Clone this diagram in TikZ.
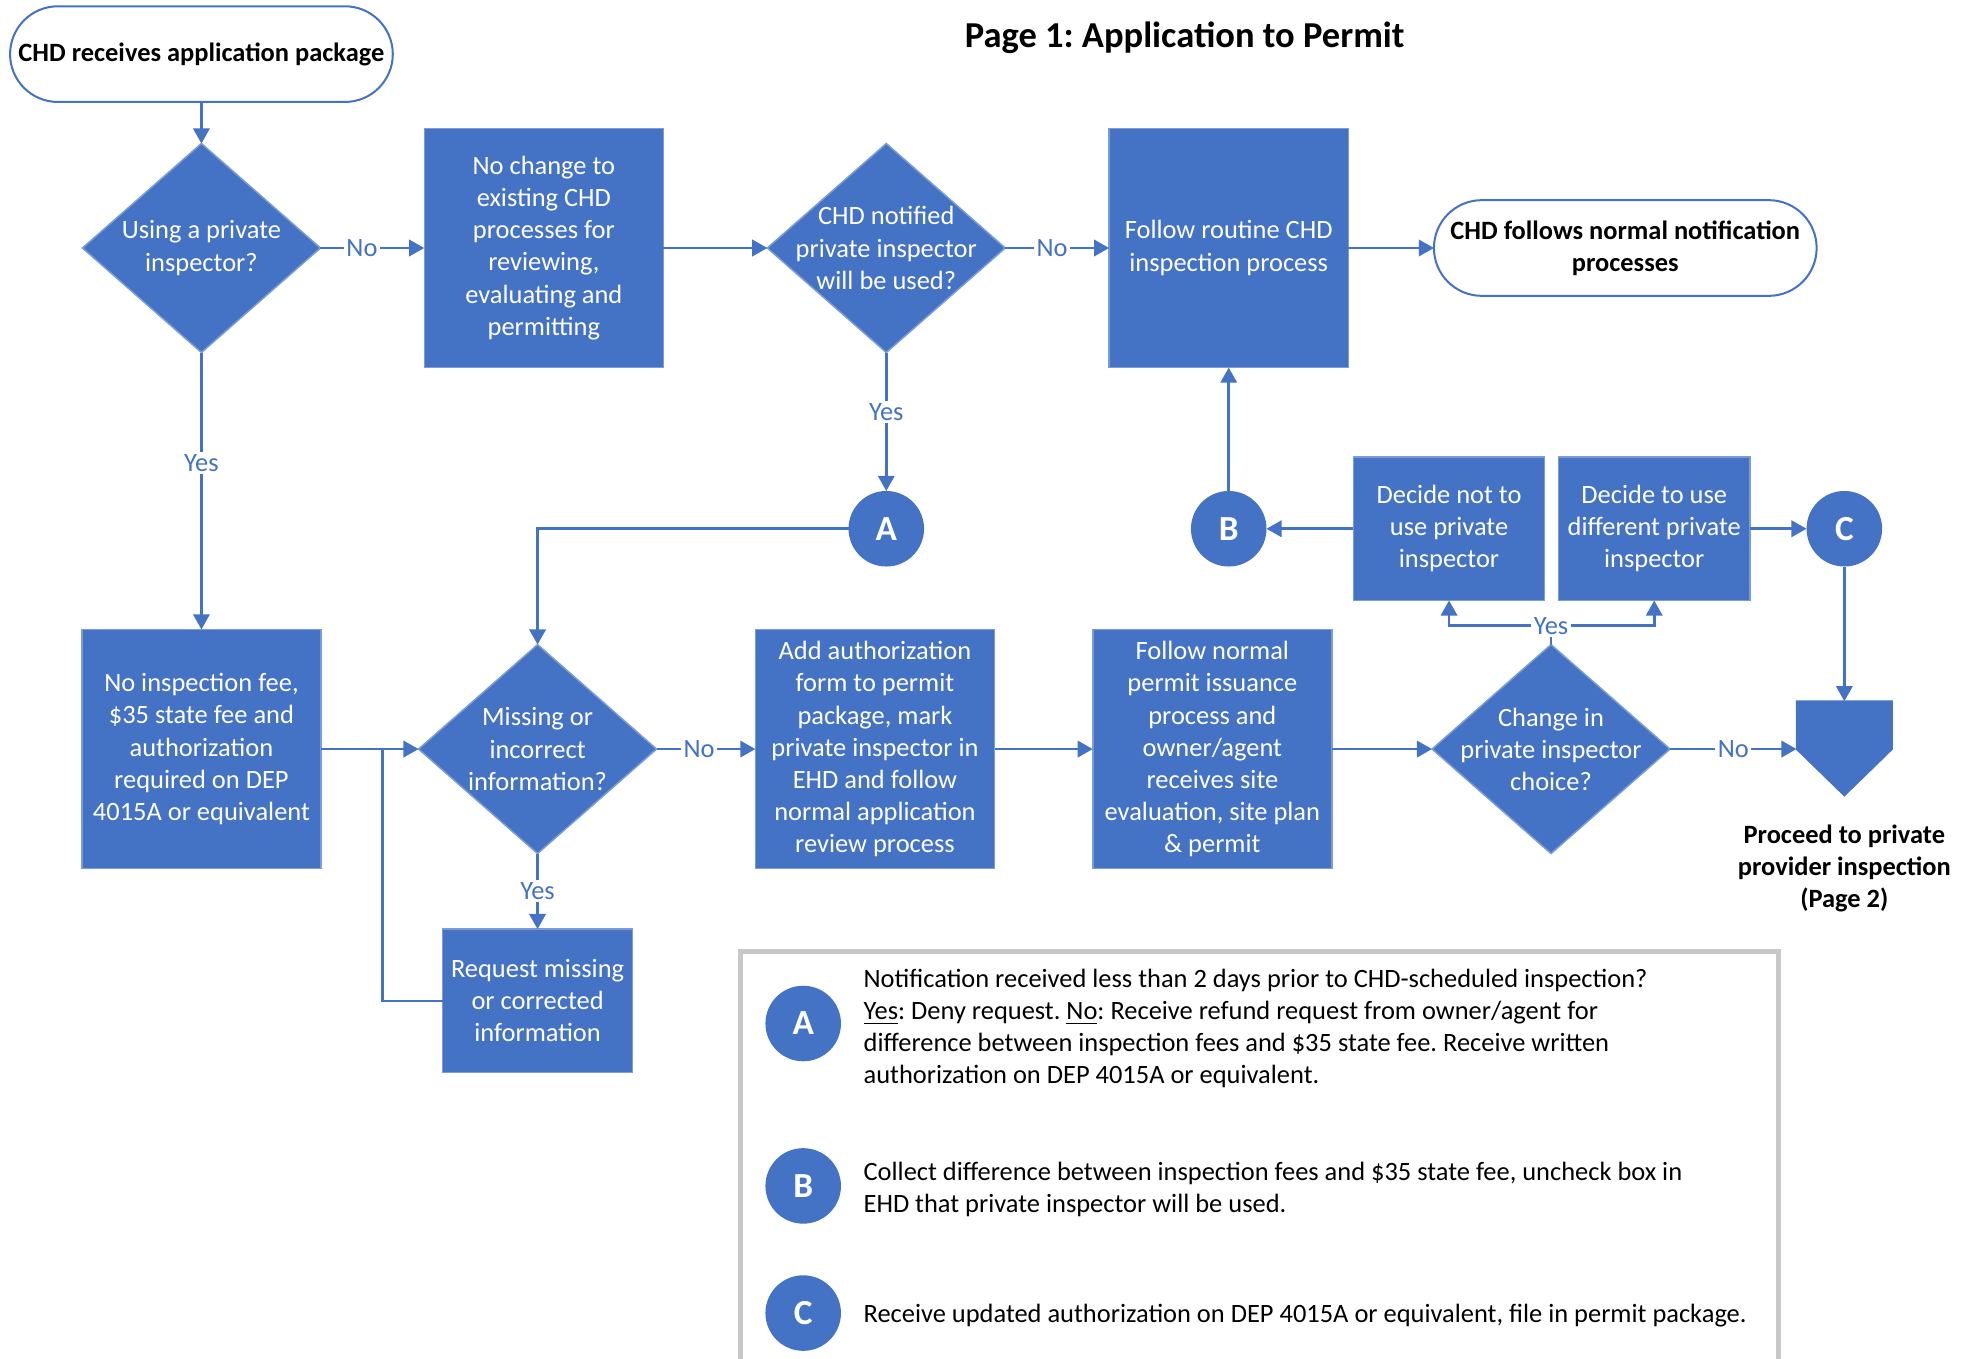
\documentclass[tikz,border=0pt]{standalone}
\usepackage{fontspec}
\setmainfont{Carlito}
\usetikzlibrary{shapes.geometric,arrows.meta,positioning}
\frenchspacing

\definecolor{chdblue}{HTML}{4472C4}
\definecolor{keygray}{HTML}{C8C8C8}

\tikzset{
  txt/.style={font=\fontsize{10.5}{12.75}\selectfont},
  proc/.style={txt, fill=chdblue, draw=chdblue!70!white, line width=0.6pt, text=white,
    align=center, inner sep=2pt, outer sep=0pt, minimum width=95pt, minimum height=95pt},
  small/.style={proc, minimum width=76pt, minimum height=57pt},
  dec/.style={diamond, fill=chdblue, draw=chdblue!70!white, line width=0.6pt, inner sep=0pt,
    outer sep=0pt, minimum width=94.5pt, minimum height=83pt},
  dtxt/.style={txt, text=white, align=center, inner sep=0pt},
  term/.style={txt, font=\bfseries\fontsize{10.5}{12.75}\selectfont, draw=chdblue, fill=white,
    line width=0.8pt, rounded corners=19pt, align=center, inner sep=2pt, outer sep=0pt,
    minimum width=152pt, minimum height=38pt},
  conn/.style={circle, fill=chdblue, text=white, inner sep=0pt, outer sep=0pt, minimum size=30pt,
    font=\bfseries\fontsize{14}{16}\selectfont},
  link/.style={->, draw=chdblue},
  lab/.style={txt, fill=white, text=chdblue, inner sep=1pt},
  keytxt/.style={txt, align=left, inner sep=0pt, anchor=west}
}

\begin{document}
\begin{tikzpicture}[x=0.5pt, y=-0.5pt, line width=1pt, >={Triangle[width=6.5pt,length=6pt]}]
  \useasboundingbox (0,0) rectangle (1568,1079);
  \node[font=\bfseries\fontsize{14.5}{17}\selectfont] (title) at (941,30) {Page 1: Application to Permit};

  \node[term] (start) at (160,43) {CHD receives application package};
  \node[dec, label={[dtxt]center:{Using a private\\inspector?}}] (priv) at (160,197) {};
  \node[proc] (nochange) at (432,197) {No change to\\existing CHD\\processes for\\reviewing,\\evaluating and\\permitting};
  \node[dec, label={[dtxt]center:{CHD notified\\private inspector\\will be used?}}] (notif) at (704,197) {};
  \node[proc] (routine) at (976,197) {Follow routine CHD\\inspection process};
  \node[term] (normal) at (1291,197) {CHD follows normal notification\\processes};

  \node[conn] (conA) at (704,420) {A};
  \node[conn] (conB) at (976,420) {B};
  \node[small] (notuse) at (1151,420) {Decide not to\\use private\\inspector};
  \node[small] (diffuse) at (1314,420) {Decide to use\\different private\\inspector};
  \node[conn] (conC) at (1465,420) {C};

  \node[proc] (nofee) at (160,595) {No inspection fee,\\\$35 state fee and\\authorization\\required on DEP\\4015A or equivalent};
  \node[dec, label={[dtxt]center:{Missing or\\incorrect\\information?}}] (miss) at (427,595) {};
  \node[proc] (addauth) at (695,595) {Add authorization\\form to permit\\package, mark\\private inspector in\\EHD and follow\\normal application\\review process};
  \node[proc] (follow) at (963,595) {Follow normal\\permit issuance\\process and\\owner/agent\\receives site\\evaluation, site plan\\\& permit};
  \node[dec, label={[dtxt]center:{Change in\\private inspector\\choice?}}] (change) at (1232,595) {};
  \node[small, minimum width=75.5pt] (request) at (427,795) {Request missing\\or corrected\\information};

  % off-page connector
  \draw[fill=chdblue, draw=chdblue, line width=0.6pt] (1427,557) -- (1503,557) -- (1503,595)
    -- (1465,632) -- (1427,595) -- cycle;
  \coordinate (pagetop) at (1465,557);
  \coordinate (pageleft) at (1427,595);
  \node[txt, font=\bfseries\fontsize{10.5}{12.75}\selectfont, align=center] (page2) at (1465,690)
    {Proceed to private\\provider inspection\\(Page 2)};

  \draw[link] (start) -- (priv);
  \draw[link] (priv) -- node[lab, pos=0.4] {No} (nochange);
  \draw[link] (nochange) -- (notif);
  \draw[link] (notif) -- node[lab, pos=0.45] {No} (routine);
  \draw[link] (routine) -- (normal);
  \draw[link] (priv) -- node[lab, pos=0.4] {Yes} (nofee);
  \draw[link] (notif) -- node[lab, pos=0.43] {Yes} (conA);
  \draw[link] (conA) -| (miss);
  \draw[link] (conB) -- (routine);
  \draw[link] (notuse) -- (conB);
  \draw[link] (diffuse) -- (conC);
  \draw[link] (conC) -- (pagetop);

  \coordinate (back) at (304,595);
  \draw[link] (nofee) -- (miss);
  \draw[chdblue] (request) -| (back);
  \draw[link] (miss) -- node[lab] {Yes} (request);
  \draw[link] (miss) -- node[lab, pos=0.43] {No} (addauth);
  \draw[link] (addauth) -- (follow);
  \draw[link] (follow) -- (change);
  \draw[link] (change) -- node[lab] {No} (pageleft);

  \coordinate (split) at (1232,497);
  \draw[chdblue] (change) -- (split);
  \draw[link] (split) -| (notuse);
  \draw[link] (split) -| (diffuse);
  \node[lab] (yes) at (split) {Yes};

  % key
  \draw[keygray, line width=2pt] (588,1110) -- (588,756) -- (1413,756) -- (1413,1110);
  \node[conn] (keyA) at (638,813) {A};
  \node[keytxt] (noteA) at (685,817) {Notification received less than 2 days prior to CHD-scheduled inspection?\\
    \underline{Yes}: Deny request. \underline{No}: Receive refund request from owner/agent for\\
    difference between inspection fees and \$35 state fee. Receive written\\
    authorization on DEP 4015A or equivalent.};
  \node[conn] (keyB) at (638,942) {B};
  \node[keytxt] (noteB) at (685,944.5) {Collect difference between inspection fees and \$35 state fee, uncheck box in\\
    EHD that private inspector will be used.};
  \node[conn] (keyC) at (638,1043) {C};
  \node[keytxt] (noteC) at (685,1045) {Receive updated authorization on DEP 4015A or equivalent, file in permit package.};
\end{tikzpicture}
\end{document}
